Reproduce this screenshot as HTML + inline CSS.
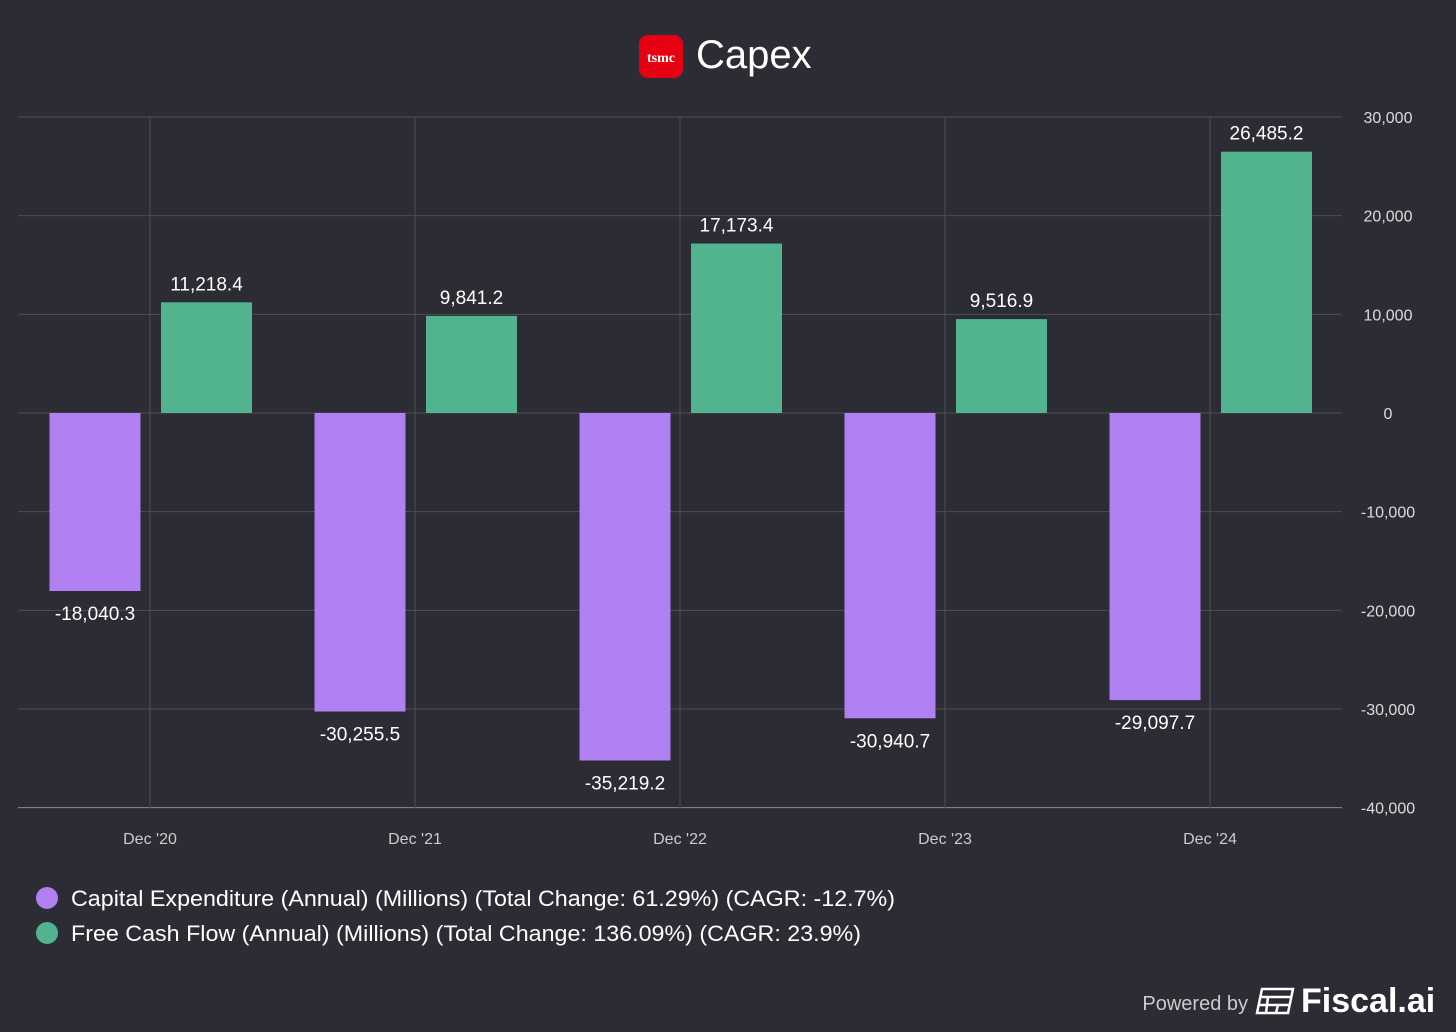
<!DOCTYPE html>
<html><head><meta charset="utf-8"><style>
body{margin:0;background:#2b2c34;width:1456px;height:1032px;overflow:hidden;font-family:"Liberation Sans",sans-serif}
svg{display:block}
</style></head><body>
<svg id="chart" width="1456" height="1032" xmlns="http://www.w3.org/2000/svg">
<rect width="1456" height="1032" fill="#2b2c34"/>
<g>
<rect x="639" y="35" width="44" height="43" rx="9" fill="#e60012"/>
<text x="661" y="62" text-anchor="middle" fill="#fff" font-family="Liberation Serif, serif" font-weight="bold" font-size="14">tsmc</text>
<text x="696" y="68" fill="#fff" font-size="40">Capex</text>
</g>
<g id="grid"></g>
<g id="bars"></g>
<g>
<circle cx="47" cy="898" r="11" fill="#b07ff2"/>
<text x="71" y="906" fill="#fff" font-size="22" textLength="824" lengthAdjust="spacingAndGlyphs">Capital Expenditure (Annual) (Millions) (Total Change: 61.29%) (CAGR: -12.7%)</text>
<circle cx="47" cy="933" r="11" fill="#52b38f"/>
<text x="71" y="941" fill="#fff" font-size="22" textLength="790" lengthAdjust="spacingAndGlyphs">Free Cash Flow (Annual) (Millions) (Total Change: 136.09%) (CAGR: 23.9%)</text>
</g>
<g>
<text x="1248" y="1010" text-anchor="end" fill="#ccc" font-size="20">Powered by</text>
<g stroke="#fff" stroke-width="2.5" fill="none">
<path d="M1262 989 h31 l-5 24 h-31 z"/><path d="M1261 997 h30 M1259 1005 h30 M1268 997 l-2 16 M1278 1005 l-2 8"/>
</g>
<text x="1301" y="1012" fill="#fff" font-size="34" font-weight="bold">Fiscal.ai</text>
</g>
</svg>
<script>
const categories=["Dec '20","Dec '21","Dec '22","Dec '23","Dec '24"];
const capex=[-18040.3,-30255.5,-35219.2,-30940.7,-29097.7];
const fcf=[11218.4,9841.2,17173.4,9516.9,26485.2];
const yTicks=[30000,20000,10000,0,-10000,-20000,-30000,-40000];
const NS="http://www.w3.org/2000/svg";
const y=v=>413-v*296/30000;
const x=i=>150+i*265;
const grid=document.getElementById('grid'),bars=document.getElementById('bars');
function mk(tag,attrs,parent,txt){const e=document.createElementNS(NS,tag);for(const k in attrs)e.setAttribute(k,attrs[k]);if(txt!==undefined)e.textContent=txt;parent.appendChild(e);return e;}
const fmt=v=>v.toLocaleString('en-US',{minimumFractionDigits:1,maximumFractionDigits:1});
yTicks.forEach(t=>{
 const l=mk('line',{x1:18,x2:1342,y1:y(t),y2:y(t),stroke:t===-40000?'#8a8b92':'#4c4e56','stroke-width':1},grid);
 
 
 const tx=mk('text',{x:1388,y:y(t)+6,'text-anchor':'middle',fill:'#ddd','font-size':16},grid,t.toLocaleString('en-US'));
 
 
});
categories.forEach((c,i)=>{
 const l=mk('line',{x1:x(i),x2:x(i),y1:117,y2:808,stroke:'#4c4e56','stroke-width':1},grid);
 
 
 const tx=mk('text',{x:x(i),y:844,'text-anchor':'middle',fill:'#ccc','font-size':16},grid,c);
 
 
 const cv=capex[i],fv=fcf[i];
 const b1=mk('rect',{x:x(i)-100.5,y:y(0),width:91,height:y(cv)-y(0),fill:'#b07ff2'},bars);
 
 
 const t1=mk('text',{x:x(i)-55,y:y(cv)+29,'text-anchor':'middle',fill:'#fff','font-size':19},bars,fmt(cv));
 
 
 const b2=mk('rect',{x:x(i)+11,y:y(fv),width:91,height:y(0)-y(fv),fill:'#52b38f'},bars);
 
 
 const t2=mk('text',{x:x(i)+56.5,y:y(fv)-12,'text-anchor':'middle',fill:'#fff','font-size':19},bars,fmt(fv));
 
 
});
</script>
</body></html>
